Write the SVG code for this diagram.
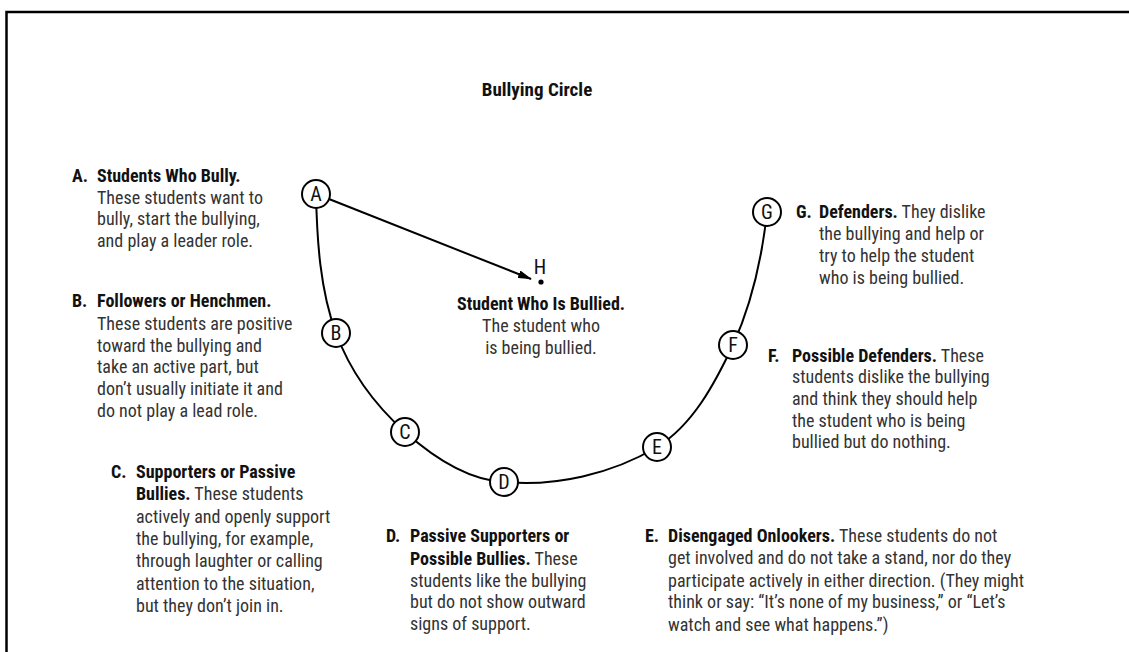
<svg xmlns="http://www.w3.org/2000/svg" width="1129" height="652" viewBox="0 0 1129 652">
  <style>
    text { font-family: "Liberation Sans Narrow", "Arial Narrow", "Roboto Condensed", "DejaVu Sans Condensed", "Liberation Sans", sans-serif; }
    .title { font-size: 19px; font-weight: bold; fill: #111; text-anchor: middle; }
    .body { font-size: 18px; fill: #333; }
    .b { font-weight: bold; fill: #111; }
    .mid { text-anchor: middle; }
    .node circle { fill: #fff; stroke: #000; stroke-width: 2; }
    .node text { font-size: 20px; fill: #111; text-anchor: middle; }
    .conn { fill: none; stroke: #000; stroke-width: 2; }
  </style>
  <defs>
    <marker id="arrow" viewBox="0 0 14 8" refX="13" refY="4" markerWidth="14" markerHeight="8" markerUnits="userSpaceOnUse" orient="auto">
      <path d="M0,0 L14,4 L0,8 Z" fill="#000"/>
    </marker>
  </defs>

  <rect width="1129" height="652" fill="#fff"/>
  <!-- open frame: top and left edges only -->
  <path d="M6.5,652 V12 H1129" fill="none" stroke="#000" stroke-width="2.5"/>

  <text class="title" x="537" y="96">Bullying Circle</text>

  <!-- connectors -->
  <g id="connectors">
    <path class="conn" d="M316,194 C317,240 320,290 336,333 C350,371 375,405 405,432 C433,457 467,480 504,482 C555,487 612,474 657,447 C693,425 715,383 733,345 C752,303 762,258 767,212"/>
    <line class="conn" x1="329" y1="199" x2="531" y2="279" marker-end="url(#arrow)"/>
  </g>

  <!-- circle nodes -->
  <g id="node-A" class="node"><circle cx="316" cy="194" r="14"/><text x="316" y="201">A</text></g>
  <g id="node-B" class="node"><circle cx="336" cy="333" r="14"/><text x="336" y="340">B</text></g>
  <g id="node-C" class="node"><circle cx="405" cy="432" r="14"/><text x="405" y="439">C</text></g>
  <g id="node-D" class="node"><circle cx="504" cy="482" r="14"/><text x="504" y="489">D</text></g>
  <g id="node-E" class="node"><circle cx="657" cy="447" r="14"/><text x="657" y="454">E</text></g>
  <g id="node-F" class="node"><circle cx="733" cy="345" r="14"/><text x="733" y="352">F</text></g>
  <g id="node-G" class="node"><circle cx="767" cy="212" r="14"/><text x="767" y="219">G</text></g>

  <g id="node-H">
    <circle cx="541" cy="282" r="2.6" fill="#000"/>
    <text x="540" y="274" style="font-size:20px;fill:#111" text-anchor="middle">H</text>
    <text class="body mid" x="541" y="310"><tspan class="b">Student Who Is Bullied.</tspan></text>
    <text class="body mid" x="541" y="332">The student who</text>
    <text class="body mid" x="541" y="354">is being bullied.</text>
  </g>

  <!-- role descriptions -->
  <g id="label-A" class="body">
    <text class="b" x="72" y="182">A.</text>
    <text class="b" x="97" y="182">Students Who Bully.</text>
    <text x="97" y="204">These students want to</text>
    <text x="97" y="225">bully, start the bullying,</text>
    <text x="97" y="247">and play a leader role.</text>
  </g>

  <g id="label-B" class="body">
    <text class="b" x="72" y="307">B.</text>
    <text class="b" x="97" y="307">Followers or Henchmen.</text>
    <text x="97" y="330">These students are positive</text>
    <text x="97" y="352">toward the bullying and</text>
    <text x="97" y="373">take an active part, but</text>
    <text x="97" y="395">don’t usually initiate it and</text>
    <text x="97" y="417">do not play a lead role.</text>
  </g>

  <g id="label-C" class="body">
    <text class="b" x="111" y="478">C.</text>
    <text class="b" x="136" y="478">Supporters or Passive</text>
    <text x="136" y="500"><tspan class="b">Bullies.</tspan> These students</text>
    <text x="136" y="523">actively and openly support</text>
    <text x="136" y="545">the bullying, for example,</text>
    <text x="136" y="567">through laughter or calling</text>
    <text x="136" y="590">attention to the situation,</text>
    <text x="136" y="612">but they don’t join in.</text>
  </g>

  <g id="label-D" class="body">
    <text class="b" x="386" y="542">D.</text>
    <text class="b" x="410" y="542">Passive Supporters or</text>
    <text x="410" y="565"><tspan class="b">Possible Bullies.</tspan> These</text>
    <text x="410" y="587">students like the bullying</text>
    <text x="410" y="608">but do not show outward</text>
    <text x="410" y="630">signs of support.</text>
  </g>

  <g id="label-E" class="body">
    <text class="b" x="645" y="542">E.</text>
    <text x="668" y="542"><tspan class="b">Disengaged Onlookers.</tspan> These students do not</text>
    <text x="668" y="564">get involved and do not take a stand, nor do they</text>
    <text x="668" y="587">participate actively in either direction. (They might</text>
    <text x="668" y="608">think or say: “It’s none of my business,” or “Let’s</text>
    <text x="668" y="631">watch and see what happens.”)</text>
  </g>

  <g id="label-F" class="body">
    <text class="b" x="768" y="362">F.</text>
    <text x="792" y="362"><tspan class="b">Possible Defenders.</tspan> These</text>
    <text x="792" y="383">students dislike the bullying</text>
    <text x="792" y="405">and think they should help</text>
    <text x="792" y="427">the student who is being</text>
    <text x="792" y="448">bullied but do nothing.</text>
  </g>

  <g id="label-G" class="body">
    <text class="b" x="796" y="218">G.</text>
    <text x="819" y="218"><tspan class="b">Defenders.</tspan> They dislike</text>
    <text x="819" y="240">the bullying and help or</text>
    <text x="819" y="262">try to help the student</text>
    <text x="819" y="284">who is being bullied.</text>
  </g>
</svg>
